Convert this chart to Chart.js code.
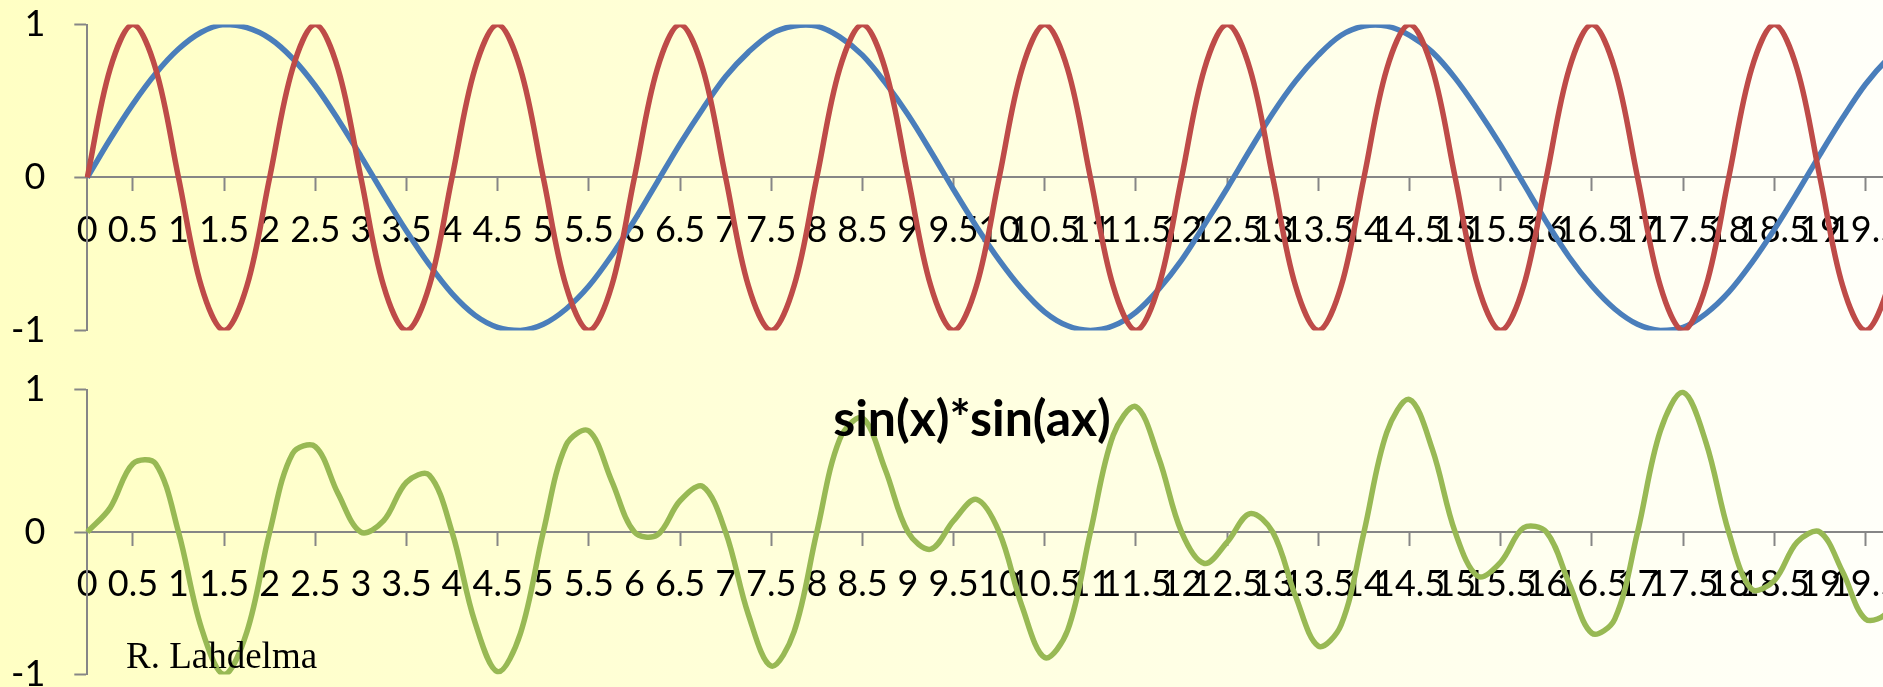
<!DOCTYPE html>
<html>
<head>
<meta charset="utf-8">
<title>sin(x)*sin(ax)</title>
<script src="https://cdn.jsdelivr.net/npm/chart.js@4.4.1/dist/chart.umd.min.js"></script>
<style>
    html, body {
        margin: 0;
        padding: 0;
        width: 1883px;
        height: 687px;
        overflow: hidden;
    }
    body {
        position: relative;
        background: linear-gradient(to right, #ffffc4 0%, #fffff9 100%);
        font-family: Lato, sans-serif;
    }
    canvas {
        position: absolute;
        left: 0;
        top: 0;
    }
    .chart-title {
        position: absolute;
        left: 972px;
        top: 387px;
        transform: translateX(-50%);
        font: bold 50px Lato, sans-serif;
        line-height: 1.2;
        white-space: nowrap;
        color: #000;
    }
    .author {
        position: absolute;
        left: 126px;
        top: 637px;
        font: 37px "Liberation Serif", serif;
        line-height: 1;
        white-space: nowrap;
        color: #000;
    }
</style>
</head>
<body>
<canvas id="top-chart" width="1950" height="460"></canvas>
<canvas id="bottom-chart" width="1950" height="460"></canvas>
<div class="chart-title">sin(x)*sin(ax)</div>
<div class="author">R. Lahdelma</div>

<script>
// x values, one point every 0.25 (labels shown every 0.5)
const xLabels = [
    '0', '0.25', '0.5', '0.75', '1', '1.25', '1.5', '1.75', '2', '2.25',
    '2.5', '2.75', '3', '3.25', '3.5', '3.75', '4', '4.25', '4.5', '4.75',
    '5', '5.25', '5.5', '5.75', '6', '6.25', '6.5', '6.75', '7', '7.25',
    '7.5', '7.75', '8', '8.25', '8.5', '8.75', '9', '9.25', '9.5', '9.75',
    '10', '10.25', '10.5', '10.75', '11', '11.25', '11.5', '11.75', '12', '12.25',
    '12.5', '12.75', '13', '13.25', '13.5', '13.75', '14', '14.25', '14.5', '14.75',
    '15', '15.25', '15.5', '15.75', '16', '16.25', '16.5', '16.75', '17', '17.25',
    '17.5', '17.75', '18', '18.25', '18.5', '18.75', '19', '19.25', '19.5', '19.75',
    '20'
];

// sin(x) - blue
const sinX = [
    0, 0.25, 0.48, 0.68, 0.84, 0.95, 1.00, 0.98, 0.91, 0.78,
    0.60, 0.38, 0.14, -0.11, -0.35, -0.57, -0.76, -0.90, -0.98, -1.00,
    -0.96, -0.86, -0.71, -0.51, -0.28, -0.03, 0.22, 0.45, 0.66, 0.82,
    0.94, 0.99, 0.99, 0.92, 0.80, 0.62, 0.41, 0.17, -0.08, -0.32,
    -0.54, -0.73, -0.88, -0.97, -1.00, -0.97, -0.88, -0.73, -0.54, -0.31,
    -0.07, 0.18, 0.42, 0.63, 0.80, 0.93, 0.99, 0.99, 0.93, 0.82,
    0.65, 0.44, 0.21, -0.04, -0.29, -0.52, -0.71, -0.86, -0.96, -1.00,
    -0.98, -0.89, -0.75, -0.56, -0.34, -0.10, 0.15, 0.39, 0.61, 0.78,
    0.91
];

// sin(ax) - red
const sinAX = [
    0, 0.71, 1, 0.71, 0, -0.71, -1, -0.71, 0, 0.71,
    1, 0.71, 0, -0.71, -1, -0.71, 0, 0.71, 1, 0.71,
    0, -0.71, -1, -0.71, 0, 0.71, 1, 0.71, 0, -0.71,
    -1, -0.71, 0, 0.71, 1, 0.71, 0, -0.71, -1, -0.71,
    0, 0.71, 1, 0.71, 0, -0.71, -1, -0.71, 0, 0.71,
    1, 0.71, 0, -0.71, -1, -0.71, 0, 0.71, 1, 0.71,
    0, -0.71, -1, -0.71, 0, 0.71, 1, 0.71, 0, -0.71,
    -1, -0.71, 0, 0.71, 1, 0.71, 0, -0.71, -1, -0.71,
    0
];

// sin(x)*sin(ax) - green
const product = [
    0, 0.17, 0.48, 0.48, 0, -0.67, -1.00, -0.70, 0, 0.55,
    0.60, 0.27, 0, 0.08, 0.35, 0.40, 0, -0.63, -0.98, -0.71,
    0, 0.61, 0.71, 0.36, 0, -0.02, 0.22, 0.32, 0, -0.58,
    -0.94, -0.70, 0, 0.65, 0.80, 0.44, 0, -0.12, 0.08, 0.23,
    0, -0.52, -0.88, -0.69, 0, 0.68, 0.88, 0.52, 0, -0.22,
    -0.07, 0.13, 0, -0.45, -0.80, -0.65, 0, 0.70, 0.93, 0.58,
    0, -0.31, -0.21, 0.03, 0, -0.36, -0.71, -0.61, 0, 0.71,
    0.98, 0.63, 0, -0.40, -0.34, -0.07, 0, -0.28, -0.61, -0.55,
    0
];

const AXIS_GREY = '#868686';
const BLUE = '#4a7ebb';
const RED = '#be4b48';
const GREEN = '#98b954';
const LABEL_SIZE = 36;

Chart.defaults.font.family = 'Lato, sans-serif';

function xAxis() {
    return {
        type: 'category',
        offset: false,
        position: { y: 0 },
        grid: {
            drawOnChartArea: false,
            tickLength: 13,
            tickWidth: 2,
            // tick marks only at 0.5, 1.5, 2.5 ...
            tickColor: ctx => ctx.index % 4 === 2 ? AXIS_GREY : 'rgba(0,0,0,0)'
        },
        border: { color: AXIS_GREY, width: 2 },
        ticks: {
            autoSkip: false,
            maxRotation: 0,
            minRotation: 0,
            padding: 18,
            color: '#000',
            font: { size: LABEL_SIZE },
            callback: function (value, index) {
                return index % 2 === 0 ? this.getLabelForValue(value) : '';
            }
        }
    };
}

function yAxis() {
    return {
        min: -1,
        max: 1,
        grid: { drawOnChartArea: false, tickLength: 13, tickWidth: 2, tickColor: AXIS_GREY },
        border: { color: AXIS_GREY, width: 2 },
        ticks: { stepSize: 1, padding: 29, color: '#000', font: { size: LABEL_SIZE } },
        afterFit: scale => { scale.width = 87.3; }
    };
}

function line(data, color, order) {
    return {
        data: data,
        borderColor: color,
        borderWidth: 5.5,
        pointRadius: 0,
        tension: 0.35,
        fill: false,
        order: order
    };
}

function makeChart(id, datasets, padding) {
    return new Chart(document.getElementById(id), {
        type: 'line',
        data: { labels: xLabels, datasets: datasets },
        options: {
            responsive: false,
            animation: false,
            devicePixelRatio: 1,
            layout: { padding: padding },
            plugins: { legend: { display: false }, tooltip: { enabled: false } },
            scales: { x: xAxis(), y: yAxis() }
        }
    });
}

// size the plot area from the padding, then slide the canvas so the
// plot area sits where the picture has it
function fitArea(chart, padding, want) {
    for (let i = 0; i < 4; i++) {
        const area = chart.chartArea;
        padding.bottom += (area.bottom - area.top) - (want.bottom - want.top);
        padding.right += area.right - want.right;
        chart.update();
    }
    chart.canvas.style.top = (want.top - chart.chartArea.top) + 'px';
}

const topPad = { left: 0, top: 0, right: 20, bottom: 60 };
const topChart = makeChart('top-chart', [line(sinX, BLUE, 1), line(sinAX, RED, 0)], topPad);
fitArea(topChart, topPad, { top: 24.7, bottom: 330.5, right: 1912.9 });

const bottomPad = { left: 0, top: 0, right: 20, bottom: 60 };
const bottomChart = makeChart('bottom-chart', [line(product, GREEN, 0)], bottomPad);
fitArea(bottomChart, bottomPad, { top: 389.3, bottom: 674.3, right: 1912.9 });
</script>
</body>
</html>
